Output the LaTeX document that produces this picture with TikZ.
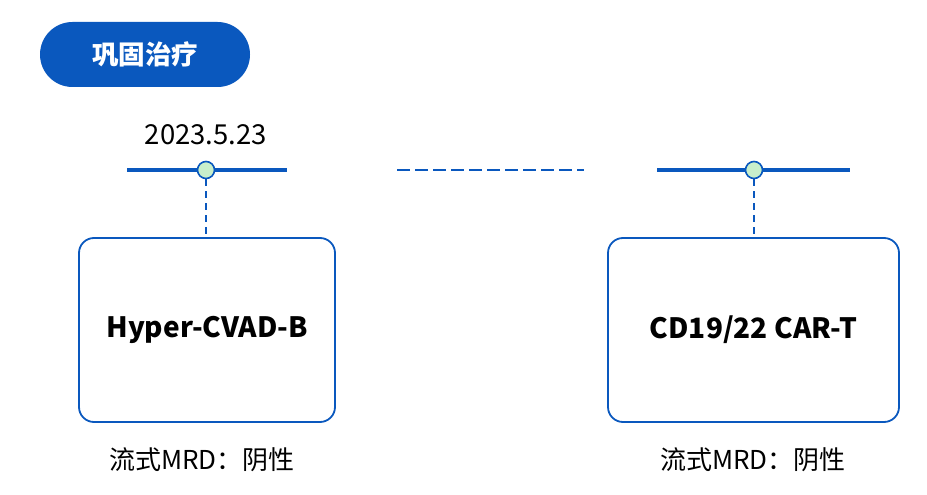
\documentclass[tikz,border=0pt]{standalone}
\usepackage{fontspec}
\setmainfont{Noto Sans CJK SC}
\definecolor{mblue}{HTML}{0A58BE}
\definecolor{mgreen}{HTML}{C8EFCB}
\begin{document}
\begin{tikzpicture}[x=1pt,y=-1pt,
  pill/.style={fill=mblue,rounded corners=32.5pt,minimum width=210pt,minimum height=65pt,inner sep=0pt,text=white,font=\fontsize{26.5}{30}\selectfont\bfseries},
  tline/.style={draw=mblue,line width=4pt},
  dot/.style={circle,draw=mblue,line width=1.6pt,fill=mgreen,minimum size=17pt,inner sep=0pt},
  vdash/.style={draw=mblue,line width=1.2pt,dash pattern=on 7pt off 5pt},
  hdash/.style={draw=mblue,line width=1.5pt,dash pattern=on 13pt off 5pt},
  card/.style={draw=mblue,line width=1.8pt,rounded corners=15pt,fill=white,inner sep=0pt,font=\fontsize{28}{32}\selectfont\bfseries},
  note/.style={font=\fontsize{26}{30}\selectfont,inner sep=0pt}]
\useasboundingbox (0,0) rectangle (927,495);
\node[pill] (title) at (145,54.5) {巩固治疗};
\node[note,font=\fontsize{27.5}{31}\selectfont] (date) at (206,135) {2023.5.23};
% left
\coordinate (l1) at (127,170); \coordinate (l2) at (287,170);
\draw[tline] (l1) -- (l2);
\node[dot] (d1) at (206,170) {};
\node[card,minimum width=256pt,minimum height=184pt] (b1) at (207,330) {Hyper-CVAD-B};
\draw[vdash] (d1.south) -- (b1.north -| d1);
\node[note] (n1) at (202,460) {流式MRD：阴性};
% middle
\coordinate (m1) at (397,170); \coordinate (m2) at (584,170);
\draw[hdash] (m1) -- (m2);
% right
\coordinate (r1) at (657,170); \coordinate (r2) at (850,170);
\draw[tline] (r1) -- (r2);
\node[dot] (d2) at (754,170) {};
\node[card,minimum width=291pt,minimum height=184pt] (b2) at (753.5,330) {CD19/22 CAR-T};
\draw[vdash] (d2.south) -- (b2.north -| d2);
\node[note] (n2) at (753,460) {流式MRD：阴性};
\end{tikzpicture}
\end{document}
